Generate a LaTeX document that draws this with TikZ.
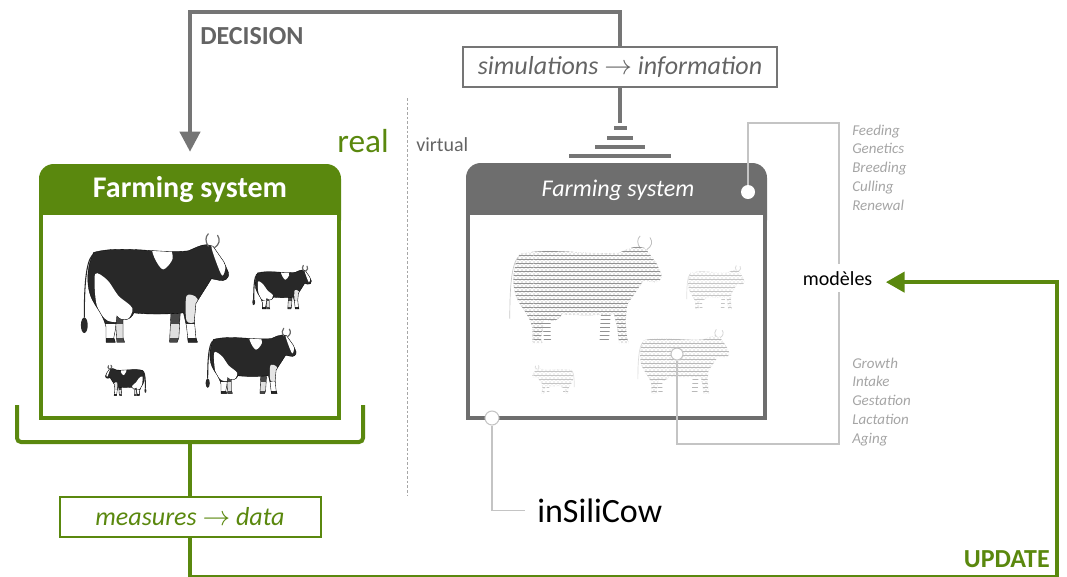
\documentclass[tikz,border=0pt]{standalone}
\usepackage{fontspec}
\setmainfont{Carlito}
\usetikzlibrary{arrows.meta,patterns}

\definecolor{farmgreen}{RGB}{90,136,14}
\definecolor{linegray}{RGB}{117,117,117}
\definecolor{boxgray}{RGB}{110,110,110}
\definecolor{textgray}{RGB}{100,100,100}
\definecolor{listgray}{RGB}{165,165,165}
\definecolor{thingray}{RGB}{196,196,196}
\definecolor{cowdark}{RGB}{40,40,40}

\tikzset{
  % outline of a standing cow, 100 x 66 units, head to the right, y downwards
  cowbody/.style={insert path={
    (12,8) .. controls (30,3) and (55,9) .. (73,7)
    .. controls (78,5) and (81,3) .. (85,3) -- (89,4) -- (96,14) -- (99,21)
    .. controls (100,25) and (96,27) .. (93,26) -- (88,25)
    .. controls (85,30) and (81,36) .. (78,41)
    -- (77,52) -- (78,63) -- (79,66) -- (73,66) -- (72,56) -- (70,47)
    .. controls (60,48) and (45,48) .. (38,47)
    .. controls (36,52) and (30,53) .. (27,49)
    -- (26,58) -- (25,63) -- (26,66) -- (20,66) -- (20,56)
    .. controls (18,48) and (14,44) .. (12,40)
    .. controls (7,32) and (7,18) .. (12,8) -- cycle}},
  farlegs/.style={insert path={
    (68,45) -- (67,63) -- (66,66) -- (61,66) -- (62,45) -- cycle
    (31,45) -- (31,63) -- (32,66) -- (27,66) -- (26,50) -- cycle}},
  pics/realcow/.style={code={
    \fill[cowdark!85, farlegs];
    \begin{scope}
      \clip[farlegs];
      \fill[white!88!black] (0,54) rectangle (100,63);
    \end{scope}
    \draw[black, line width=0.25pt, farlegs];
    \fill[cowdark, cowbody];
    \begin{scope}
      \clip[cowbody];
      \fill[white] plot[smooth cycle] coordinates {(50,5) (60,3) (63,12) (57,19) (52,13)};
      \fill[white] plot[smooth cycle] coordinates {(13,22) (21,26) (28,36) (37,44) (33,52) (21,52) (14,42)};
      \fill[white!90!black] plot[smooth cycle] coordinates {(72,36) (79,38) (78,52) (72,52)};
      \fill[white] plot[smooth cycle] coordinates {(88,4) (93,8) (97,17) (95,23) (91,14)};
      \fill[white] (0,54) rectangle (100,63);
      \fill[cowdark] (0,63.5) rectangle (100,67);
    \end{scope}
    \draw[black, line width=0.25pt, cowbody];
    \draw[cowdark, line width=0.8pt] (11,10) .. controls (7,15) and (6,30) .. (6,50);
    \fill[cowdark] (6,55) ellipse [x radius=2.2, y radius=5];
    \draw[cowdark!70, line width=0.9pt, line cap=round]
      (86,4) .. controls (84,1) and (84,-2) .. (86,-4)
      (90,5) .. controls (93,3) and (94,0) .. (92,-3);
  }},
  pics/virtcow/.style={code={
    \fill[pattern=horizontal lines, pattern color=#1, farlegs];
    \fill[pattern=horizontal lines, pattern color=#1, cowbody];
    \fill[pattern=crosshatch dots, pattern color=#1, cowbody];
    \draw[draw=#1, draw opacity=0.45, line width=0.3pt, densely dotted, cowbody];
    \draw[draw=#1, draw opacity=0.5, line width=0.5pt] (11,10) .. controls (7,15) and (6,30) .. (6,50);
    \draw[draw=#1, draw opacity=0.6, line width=0.6pt]
      (86,4) .. controls (84,1) and (84,-2) .. (86,-4)
      (90,5) .. controls (93,3) and (94,0) .. (92,-3);
  }},
  decline/.style={draw=linegray, line width=3pt},
  gline/.style={draw=farmgreen, line width=3pt},
  tline/.style={draw=thingray, line width=1.1pt},
  gbar/.style={draw=linegray, line width=2.4pt},
  dot/.style={circle, fill=white, draw=thingray, line width=0.8pt, minimum size=10.5pt, inner sep=0pt},
  infobox/.style={rectangle, line width=1.5pt, minimum height=30.5pt, inner sep=0pt,
    font=\fontsize{19.5}{23}\selectfont\itshape},
  listtxt/.style={text=listgray, font=\fontsize{11.25}{13}\selectfont\itshape, inner sep=0pt},
  bigword/.style={font=\fontsize{19.5}{23}\selectfont\bfseries, inner sep=0pt},
}

\begin{document}
\begin{tikzpicture}[x=0.75pt, y=-0.75pt]
\useasboundingbox (0,0) rectangle (1067,576);

% anchors of the two farming-system panels
\node[minimum width=223.5pt, minimum height=189pt, inner sep=0pt] (rsys) at (190,292) {};
\node[minimum width=222.75pt, minimum height=189.75pt, inner sep=0pt] (vsys) at (616.5,291.5) {};

% separation between the real and the virtual world
\draw[gray!70, line width=0.6pt, dash pattern=on 2pt off 1.5pt] (407,98) -- (407,495);
\node[anchor=base east, text=farmgreen, font=\fontsize{25}{30}\selectfont, inner sep=0pt] (real) at (389,152) {real};
\node[anchor=base west, text=textgray, font=\fontsize{15}{18}\selectfont, inner sep=0pt] (virtual) at (416,151) {virtual};

% ---------- real farming system ----------
\fill[farmgreen, rounded corners=11pt] (39,164) rectangle (341,235);
\fill[white] (43,215) rectangle (337,416);
\draw[farmgreen, line width=3pt] (41,200) -- (41,418) -- (339,418) -- (339,200);
\node[text=white, font=\fontsize{22.5}{27}\selectfont\bfseries] (rhead) at (190,190) {Farming system};

\pic at (75,240) [scale=1.55] {realcow};
\pic at (250,268) [scale=0.62] {realcow};
\pic at (202,332) [xscale=0.95, yscale=0.93] {realcow};
\pic at (148,367) [xscale=-0.43, yscale=0.43] {realcow};

% bracket gathering the real system
\draw[gline, rounded corners=3pt] (17,405) -- (17,442) -- (363,442) -- (363,405);
\coordinate (brk) at (190,442);

% ---------- virtual farming system ----------
\fill[boxgray, rounded corners=11pt] (466,163) rectangle (767,235);
\fill[white] (470,215) rectangle (763,416);
\draw[boxgray, line width=3pt] (468,200) -- (468,418) -- (765,418) -- (765,200);
\node[text=white, font=\fontsize{18}{22}\selectfont\itshape] (vhead) at (618,190) {Farming system};

\pic at (500,242) [xscale=1.63, yscale=1.53] {virtcow=gray!85};
\pic at (683,268) [scale=0.62] {virtcow=gray!45};
\pic at (632,333) [xscale=0.98, yscale=0.92] {virtcow=gray!55};
\pic at (577,367) [xscale=-0.45, yscale=0.4] {virtcow=gray!45};

% ---------- decision loop ----------
\node[infobox, draw=linegray, text=textgray, minimum width=235.5pt] (sim) at (620,67)
  {simulations $\rightarrow$ information};
\node[bigword, anchor=base west, text=textgray] (dec) at (200,44) {DECISION};
\draw[decline, -{Triangle[length=15pt, width=15pt]}]
  (sim.north) -- ++(0,-34) -| ([yshift=10.5pt]rsys.north);
\coordinate (gnd) at (620,123);
\draw[decline] (sim.south) -- (gnd);
\draw[gbar] (614,128) -- (627,128);
\draw[gbar] (607,138) -- (633,138);
\draw[gbar] (595,147) -- (645,147);
\draw[gbar] (569,156) -- (671,156);

% ---------- models ----------
\node[circle, fill=white, minimum size=10.5pt, inner sep=0pt] (hdot) at (748,192) {};
\node[dot, minimum size=9pt] (cdot) at (677,354) {};
\node[dot] (bdot) at (492,418) {};
\coordinate (mtop) at (839,123);
\coordinate (mbot) at (839,444);
\draw[tline] (hdot) |- (mtop) -- (mbot) -| (cdot);

\node[fill=white, inner xsep=2pt, inner ysep=5pt, anchor=base west,
      font=\fontsize{15}{18}\selectfont] (models) at (800,285) {modèles};

\foreach \w [count=\i] in {Feeding,Genetics,Breeding,Culling,Renewal}
  \node[listtxt, anchor=base west] (herd\i) at (852,{135+18.8*(\i-1)}) {\w};
\foreach \w [count=\i] in {Growth,Intake,Gestation,Lactation,Aging}
  \node[listtxt, anchor=base west] (animal\i) at (852,{368+18.8*(\i-1)}) {\w};

% ---------- inSiliCow ----------
\node[anchor=base west, inner sep=0pt, font=\fontsize{25.5}{30}\selectfont] (ins) at (537,522) {inSiliCow};
\draw[tline, shorten >=9pt] (bdot) |- (ins.west);

% ---------- measures and update loop ----------
\node[infobox, draw=farmgreen, text=farmgreen, minimum width=195.75pt] (meas) at (190,517)
  {measures $\rightarrow$ data};
\draw[gline] (brk) -- (meas.north);
\coordinate (upd) at (1057,577);
\draw[gline, -{Triangle[length=14pt, width=15pt]}, shorten >=8pt]
  (meas.south) |- (upd) |- ([yshift=-3pt]models.east);
\node[bigword, anchor=base east, text=farmgreen] (update) at (1050,567) {UPDATE};

\end{tikzpicture}
\end{document}
